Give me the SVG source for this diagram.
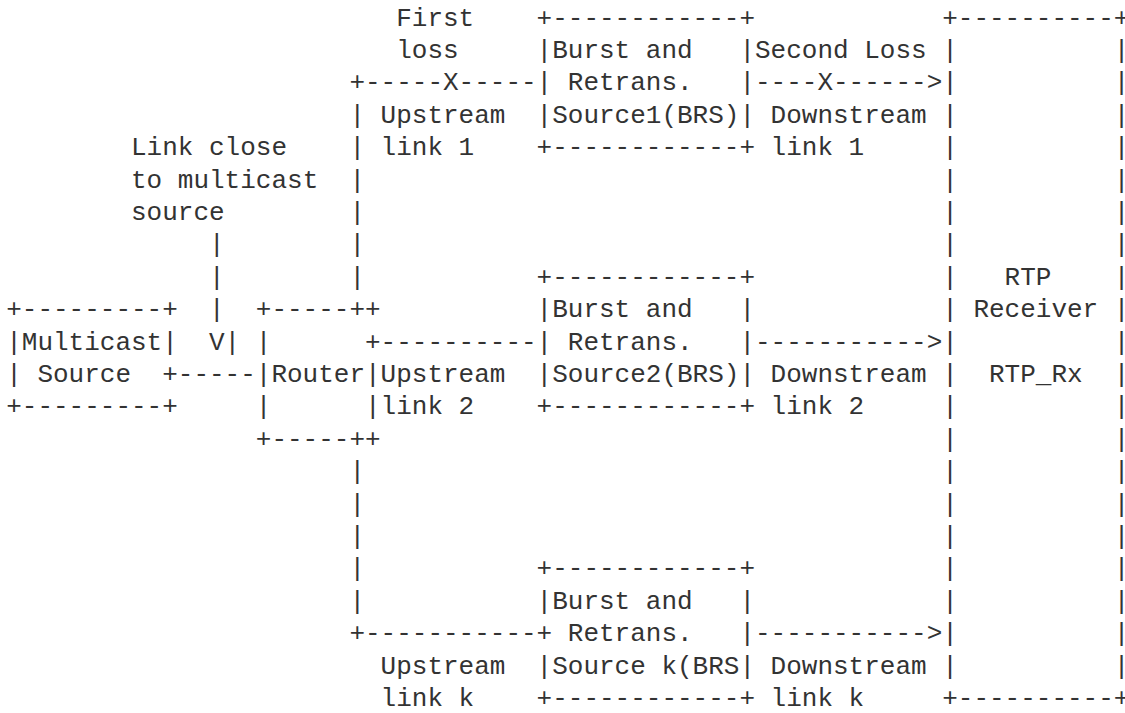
<svg xmlns="http://www.w3.org/2000/svg" width="1125" height="713" viewBox="0 0 1125 713" xml:space="preserve">
<style>
text { font-family: "Liberation Mono", "DejaVu Sans Mono", monospace; font-size: 26px; fill: #333333; white-space: pre; }
</style>
<rect width="1125" height="713" fill="#ffffff"/>
<g id="connectors">
  <text><tspan x="349.4" y="90.3">+-----X-----</tspan><tspan x="349.4" y="122.7">|</tspan><tspan x="349.4" y="155.1">|</tspan><tspan x="349.4" y="187.5">|</tspan><tspan x="349.4" y="219.9">|</tspan><tspan x="349.4" y="252.3">|</tspan><tspan x="349.4" y="284.7">|</tspan></text>
  <text><tspan x="380.6" y="349.5">----------</tspan></text>
  <text><tspan x="349.4" y="479.1">|</tspan><tspan x="349.4" y="511.5">|</tspan><tspan x="349.4" y="543.9">|</tspan><tspan x="349.4" y="576.3">|</tspan><tspan x="349.4" y="608.7">|</tspan><tspan x="349.4" y="641.1">+-----------</tspan></text>
  <text><tspan x="177.8" y="381.9">-----</tspan></text>
  <text><tspan x="209" y="252.3">|</tspan><tspan x="209" y="284.7">|</tspan><tspan x="209" y="317.1">|</tspan><tspan x="209" y="349.5">V|</tspan></text>
  <text><tspan x="755" y="90.3">----X------&gt;</tspan></text>
  <text><tspan x="755" y="349.5">-----------&gt;</tspan></text>
  <text><tspan x="755" y="641.1">-----------&gt;</tspan></text>
</g>
<g id="multicast-source">
  <text><tspan x="6.2" y="317.1">+---------+</tspan><tspan x="6.2" y="349.5">|Multicast|</tspan><tspan x="6.2" y="381.9">| Source  +</tspan><tspan x="6.2" y="414.3">+---------+</tspan></text>
</g>
<g id="router">
  <text><tspan x="255.8" y="317.1">+-----++</tspan><tspan x="255.8" y="349.5">|      +</tspan><tspan x="255.8" y="381.9">|Router|</tspan><tspan x="255.8" y="414.3">|      |</tspan><tspan x="255.8" y="446.7">+-----++</tspan></text>
</g>
<g id="brs1">
  <text><tspan x="536.6" y="25.5">+------------+</tspan><tspan x="536.6" y="57.9">|Burst and   |</tspan><tspan x="536.6" y="90.3">| Retrans.   |</tspan><tspan x="536.6" y="122.7">|Source1(BRS)|</tspan><tspan x="536.6" y="155.1">+------------+</tspan></text>
</g>
<g id="brs2">
  <text><tspan x="536.6" y="284.7">+------------+</tspan><tspan x="536.6" y="317.1">|Burst and   |</tspan><tspan x="536.6" y="349.5">| Retrans.   |</tspan><tspan x="536.6" y="381.9">|Source2(BRS)|</tspan><tspan x="536.6" y="414.3">+------------+</tspan></text>
</g>
<g id="brsk">
  <text><tspan x="536.6" y="576.3">+------------+</tspan><tspan x="536.6" y="608.7">|Burst and   |</tspan><tspan x="536.6" y="641.1">+ Retrans.   |</tspan><tspan x="536.6" y="673.5">|Source k(BRS|</tspan><tspan x="536.6" y="705.9">+------------+</tspan></text>
</g>
<g id="rtp-receiver">
  <text><tspan x="942.2" y="25.5">+----------+</tspan><tspan x="942.2" y="57.9">|          |</tspan><tspan x="942.2" y="90.3">|          |</tspan><tspan x="942.2" y="122.7">|          |</tspan><tspan x="942.2" y="155.1">|          |</tspan><tspan x="942.2" y="187.5">|          |</tspan><tspan x="942.2" y="219.9">|          |</tspan><tspan x="942.2" y="252.3">|          |</tspan><tspan x="942.2" y="284.7">|   RTP    |</tspan><tspan x="942.2" y="317.1">| Receiver |</tspan><tspan x="942.2" y="349.5">|          |</tspan><tspan x="942.2" y="381.9">|  RTP_Rx  |</tspan><tspan x="942.2" y="414.3">|          |</tspan><tspan x="942.2" y="446.7">|          |</tspan><tspan x="942.2" y="479.1">|          |</tspan><tspan x="942.2" y="511.5">|          |</tspan><tspan x="942.2" y="543.9">|          |</tspan><tspan x="942.2" y="576.3">|          |</tspan><tspan x="942.2" y="608.7">|          |</tspan><tspan x="942.2" y="641.1">|          |</tspan><tspan x="942.2" y="673.5">|          |</tspan><tspan x="942.2" y="705.9">+----------+</tspan></text>
</g>
<g id="labels">
  <text><tspan x="396.2" y="25.5">First</tspan><tspan x="396.2" y="57.9">loss</tspan></text>
  <text><tspan x="755" y="57.9">Second Loss</tspan></text>
  <text><tspan x="380.6" y="122.7">Upstream</tspan><tspan x="380.6" y="155.1">link 1</tspan></text>
  <text><tspan x="770.6" y="122.7">Downstream</tspan><tspan x="770.6" y="155.1">link 1</tspan></text>
  <text><tspan x="131" y="155.1">Link close</tspan><tspan x="131" y="187.5">to multicast</tspan><tspan x="131" y="219.9">source</tspan></text>
  <text><tspan x="380.6" y="381.9">Upstream</tspan><tspan x="380.6" y="414.3">link 2</tspan></text>
  <text><tspan x="770.6" y="381.9">Downstream</tspan><tspan x="770.6" y="414.3">link 2</tspan></text>
  <text><tspan x="380.6" y="673.5">Upstream</tspan><tspan x="380.6" y="705.9">link k</tspan></text>
  <text><tspan x="770.6" y="673.5">Downstream</tspan><tspan x="770.6" y="705.9">link k</tspan></text>
</g>
</svg>
